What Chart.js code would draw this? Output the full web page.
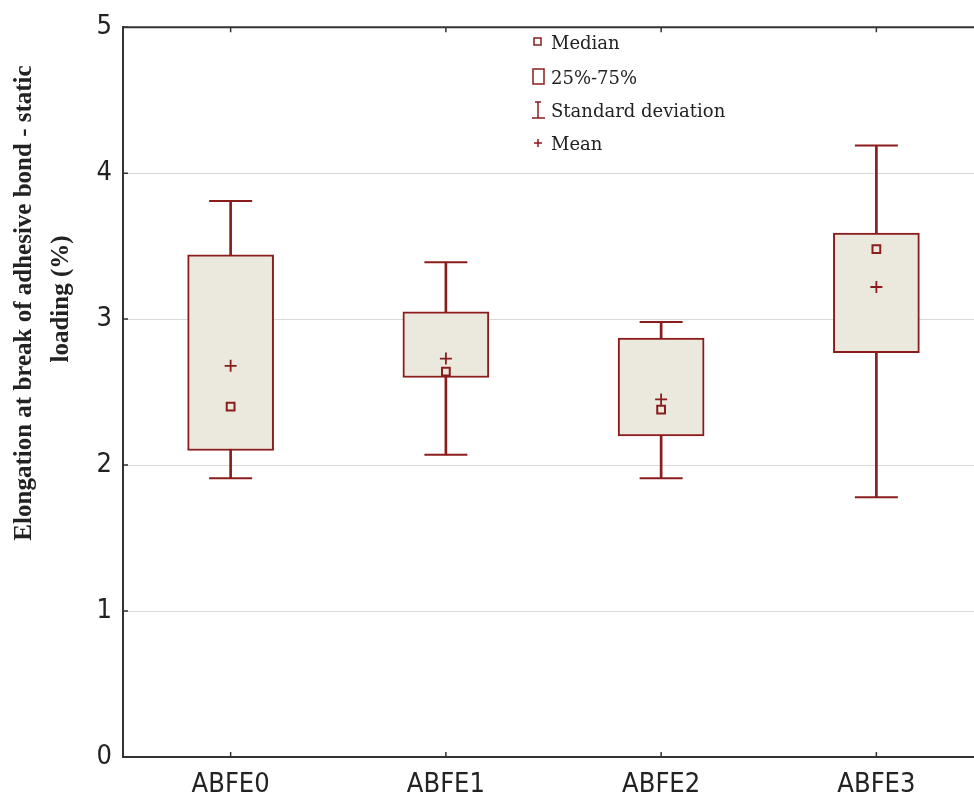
<!DOCTYPE html>
<html>
<head>
<meta charset="utf-8">
<title>Elongation at break - box plot</title>
<script src="https://cdn.jsdelivr.net/npm/chart.js@4"></script>
<style>
  html, body { margin: 0; padding: 0; background: #fff; overflow: hidden; }
  #frame { width: 974px; height: 802px; overflow: hidden; }
  #chartBox { display: block; }
</style>
</head>
<body>
<div id="frame"><canvas id="chartBox" width="984" height="802"></canvas></div>
<script>
// data
const groups = ['ABFE0', 'ABFE1', 'ABFE2', 'ABFE3'];
const q1Values = [2.10, 2.60, 2.20, 2.77];
const q3Values = [3.44, 3.05, 2.87, 3.59];
const sdLow = [1.91, 2.07, 1.91, 1.78];
const sdHigh = [3.81, 3.39, 2.98, 4.19];
const medianValues = [2.40, 2.64, 2.38, 3.48];
const meanValues = [2.68, 2.73, 2.45, 3.22];
const yTicks = [0, 1, 2, 3, 4, 5];
const legendLabels = ['Median', '25%-75%', 'Standard deviation', 'Mean'];
const yTitle = ['Elongation at break of adhesive bond - static', 'loading (%)'];

const lineColor = '#8b1c1c';
const boxFill = '#ebe9de';
const axisColor = '#333';
const tickFont = { family: "'DejaVu Sans Condensed', 'Liberation Sans Narrow', 'Liberation Sans', Arial, sans-serif", size: 27 };

const extras = {
    id: 'extras',
    afterDraw(chart) {
        const ctx = chart.ctx;
        const area = chart.chartArea;
        const xs = chart.scales.x;
        const ys = chart.scales.y;

        ctx.save();
        // top frame line
        ctx.strokeStyle = axisColor;
        ctx.lineWidth = 2;
        ctx.beginPath();
        ctx.moveTo(area.left, area.top);
        ctx.lineTo(area.right, area.top);
        ctx.stroke();

        // inner tick marks
        ctx.lineWidth = 1.5;
        ctx.beginPath();
        yTicks.forEach(v => {
            const py = ys.getPixelForValue(v);
            ctx.moveTo(area.left, py);
            ctx.lineTo(area.left + 5, py);
        });
        groups.forEach((g, i) => {
            const px = xs.getPixelForTick(i);
            ctx.moveTo(px, area.bottom);
            ctx.lineTo(px, area.bottom - 5);
            ctx.moveTo(px, area.top);
            ctx.lineTo(px, area.top + 5);
        });
        ctx.stroke();

        // legend
        const lx = 538;
        const rows = [42, 77, 110, 143];
        ctx.strokeStyle = lineColor;
        ctx.lineWidth = 1.5;
        ctx.strokeRect(lx - 4, rows[0] - 4, 7, 7);
        ctx.strokeRect(lx - 5, rows[1] - 8, 11, 15);
        ctx.beginPath();
        ctx.moveTo(lx, rows[2] - 8);
        ctx.lineTo(lx, rows[2] + 8);
        ctx.moveTo(lx - 3, rows[2] - 8);
        ctx.lineTo(lx + 3, rows[2] - 8);
        ctx.moveTo(lx - 6, rows[2] + 8);
        ctx.lineTo(lx + 7, rows[2] + 8);
        ctx.moveTo(lx - 4, rows[3]);
        ctx.lineTo(lx + 4, rows[3]);
        ctx.moveTo(lx, rows[3] - 4);
        ctx.lineTo(lx, rows[3] + 4);
        ctx.stroke();

        ctx.fillStyle = '#222';
        ctx.font = "18px 'DejaVu Serif', serif";
        ctx.textBaseline = 'middle';
        ctx.textAlign = 'left';
        legendLabels.forEach((t, i) => ctx.fillText(t, 551, rows[i] + 2));

        // y axis title
        ctx.font = "bold 25px 'Liberation Serif', serif";
        ctx.textAlign = 'center';
        ctx.translate(25, 303);
        ctx.rotate(-Math.PI / 2);
        ctx.fillText(yTitle[0], 0, 0);
        ctx.fillText(yTitle[1], 4, 37);
        ctx.restore();
    }
};

const ctx = document.getElementById('chartBox').getContext('2d');

new Chart(ctx, {
    data: {
        labels: groups,
        datasets: [
            {
                type: 'bar',
                label: 'Standard deviation',
                data: groups.map((g, i) => [sdLow[i], sdHigh[i]]),
                backgroundColor: lineColor,
                barThickness: 2,
                grouped: false,
                order: 3
            },
            {
                type: 'bar',
                label: '25%-75%',
                data: groups.map((g, i) => [q1Values[i], q3Values[i]]),
                backgroundColor: boxFill,
                borderColor: lineColor,
                borderWidth: 2,
                borderSkipped: false,
                barThickness: 86,
                grouped: false,
                order: 2
            },
            {
                type: 'line',
                label: 'sd high',
                data: sdHigh,
                showLine: false,
                pointStyle: 'line',
                pointRadius: 21.5,
                pointBorderColor: lineColor,
                pointBorderWidth: 2,
                order: 1
            },
            {
                type: 'line',
                label: 'sd low',
                data: sdLow,
                showLine: false,
                pointStyle: 'line',
                pointRadius: 21.5,
                pointBorderColor: lineColor,
                pointBorderWidth: 2,
                order: 1
            },
            {
                type: 'line',
                label: 'Median',
                data: medianValues,
                showLine: false,
                pointStyle: 'rect',
                pointRadius: 5.5,
                pointBackgroundColor: boxFill,
                pointBorderColor: lineColor,
                pointBorderWidth: 2,
                order: 0
            },
            {
                type: 'line',
                label: 'Mean',
                data: meanValues,
                showLine: false,
                pointStyle: 'cross',
                pointRadius: 6,
                pointBorderColor: lineColor,
                pointBorderWidth: 1.8,
                order: 0
            }
        ]
    },
    options: {
        responsive: false,
        animation: false,
        events: [],
        layout: { autoPadding: false, padding: { top: 24, left: 0, right: 0, bottom: 0 } },
        plugins: {
            legend: { display: false },
            tooltip: { enabled: false }
        },
        scales: {
            x: {
                type: 'category',
                offset: true,
                grid: { display: false },
                border: { display: true, color: axisColor, width: 2 },
                ticks: { color: '#222', font: tickFont, padding: 4 },
                afterFit: s => {
                    s.height = 45;
                    s.paddingLeft = 0;
                    s.paddingRight = 0;
                }
            },
            y: {
                min: 0,
                max: 5,
                ticks: { stepSize: 1, color: '#222', font: tickFont, padding: 11 },
                grid: { color: '#d9d9d9', lineWidth: 1, drawTicks: false },
                border: { display: true, color: axisColor, width: 2 },
                afterFit: s => { s.width = 123; }
            }
        }
    },
    plugins: [extras]
});
</script>
</body>
</html>
